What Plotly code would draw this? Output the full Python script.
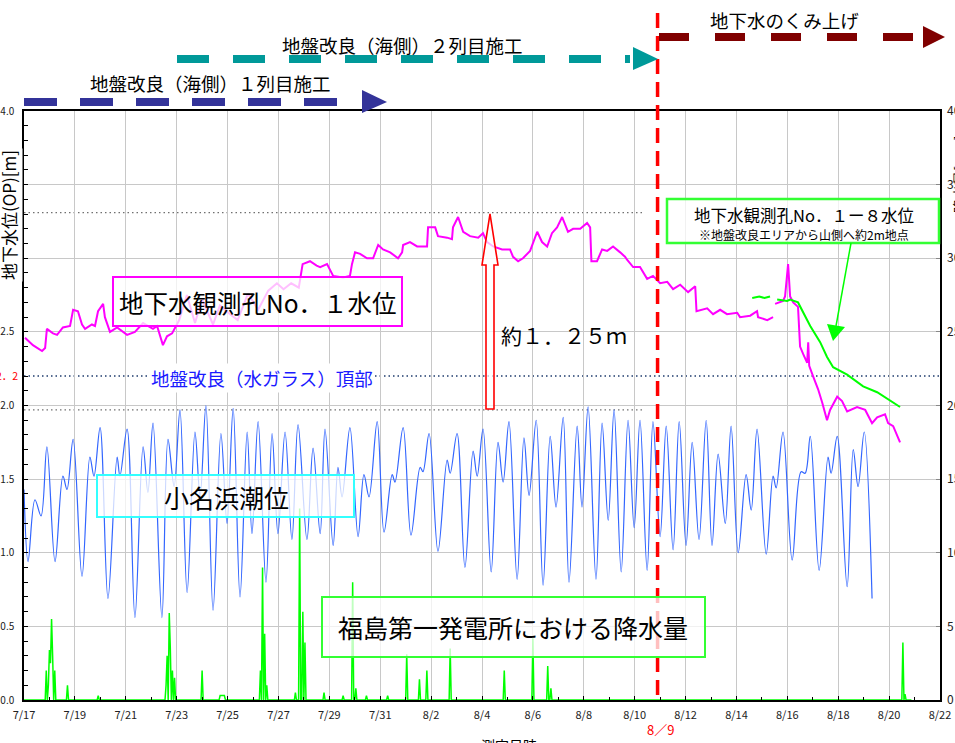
import pandas as pd
import plotly.graph_objects as go

T0 = pd.Timestamp("2013-07-17 00:00")
T_END = pd.Timestamp("2013-08-22 00:00")

# ---------------- data (days since 7/17 00:00) ----------------
# 地下水観測孔No.1水位 [OP m]  (None = data gap)
no1_day = [0.04, 0.35, 0.71, 0.83, 0.90, 1.14, 1.30, 1.53, 1.81, 1.93, 2.12, 2.28, 2.40,
           2.67, 2.79, 2.91, 3.11, 3.18, 3.38, 3.66, 4.05, 4.36, 4.68, 5.07, 5.23, 5.46,
           5.62, 5.82, 6.10, 6.40, 6.72, 7.00, 7.43, 7.70, 8.10, 8.40, 8.80, 9.20, 9.60,
           9.94, 10.20, 10.50, 10.80, 10.95, 11.24, 11.50, 11.64, 11.91, 12.15, 12.54,
           12.81, 12.89, 13.01, 13.21, 13.48, 13.72, 13.92, 14.11, 14.39, 14.70, 14.86,
           14.90, 15.17, 15.45, 15.84, 15.88, 16.16, 16.27, 16.63, 16.82, 16.86, 17.06,
           17.26, 17.53, 17.85, 18.04, 18.20, 18.44, 18.79, 19.10, 19.22, 19.42, 19.61,
           19.89, 20.17, 20.36, 20.56, 20.75, 20.95, 21.15, 21.38, 21.58, 21.86, 22.13,
           22.25, 22.30, 22.52, 22.72, 22.92, 23.15, 23.43, 23.62, 23.70, 23.94, 24.21,
           24.49, 24.72, 25.00, 25.28, 25.51, 25.79, 26.10, 26.38, 26.43, 26.85, 27.08,
           27.36, 27.63, 28.03, 28.14, 28.54, 28.81, 28.85, 29.21, 29.44,
           29.48,
           29.52, 29.83, 29.91, 30.03, 30.11, 30.23, 30.42, 30.50, 30.62, 30.78, 30.82,
           30.86, 31.01, 31.21, 31.37, 31.56, 31.68, 31.96, 32.15, 32.35, 32.74, 33.06,
           33.33, 33.53, 33.84, 33.96, 34.16, 34.43]
no1_val = [2.46, 2.41, 2.37, 2.39, 2.52, 2.49, 2.48, 2.53, 2.54, 2.65, 2.64, 2.55, 2.52,
           2.55, 2.54, 2.64, 2.69, 2.60, 2.50, 2.53, 2.48, 2.50, 2.56, 2.52, 2.54, 2.41,
           2.47, 2.49, 2.58, 2.75, 2.56, 2.72, 2.55, 2.68, 2.62, 2.58, 2.76, 2.65, 2.78,
           2.83, 2.79, 2.83, 2.80, 2.96, 2.98, 2.95, 2.94, 2.96, 2.88, 2.87,
           2.88, 2.96, 3.04, 3.03, 3.00, 3.00, 3.09, 3.06, 3.04, 3.00, 3.04,
           3.09, 3.11, 3.08, 3.08, 3.21, 3.21, 3.15, 3.14, 3.13, 3.21, 3.28,
           3.18, 3.15, 3.14, 3.17, 3.11, 3.08, 3.06, 3.06, 3.01, 2.98, 3.00,
           3.05, 3.18, 3.11, 3.08, 3.17, 3.21, 3.28, 3.18, 3.20, 3.20, 3.24,
           3.21, 2.98, 2.98, 3.06, 3.05, 3.08, 3.04, 3.01, 2.99, 2.94, 2.94,
           2.86, 2.88, 2.83, 2.84, 2.79, 2.82, 2.77, 2.81, 2.64, 2.66, 2.62,
           2.65, 2.62, 2.63, 2.60, 2.61, 2.64, 2.60, 2.58, 2.60,
           None,
           2.69, 2.71, 2.74, 2.96, 2.74, 2.70, 2.67, 2.40, 2.35, 2.29, 2.43,
           2.27, 2.20, 2.11, 2.02, 1.90, 1.97, 2.06, 2.03, 1.96, 1.99, 1.97,
           1.88, 1.92, 1.94, 1.88, 1.86, 1.75]

# 地下水観測孔No.1-8水位 [OP m]
no18_day = [28.62, 28.90, 29.10, 29.32, 29.36, 29.60, 29.99, 30.11, 30.42, 30.90, 31.29,
            31.56, 31.80, 32.35, 32.98, 33.53, 34.04, 34.43]
no18_val = [2.73, 2.74, 2.73, 2.74, None, 2.72, 2.71, 2.72, 2.70, 2.54, 2.43,
            2.33, 2.26, 2.21, 2.13, 2.09, 2.03, 1.99]

# 小名浜潮位 [OP m]  (high / low waters)
tide_day = [0.00, 0.16, 0.43, 0.67, 0.90, 1.22, 1.53, 1.69, 1.93, 2.28, 2.59, 2.75, 2.99,
            3.30, 3.66, 3.77, 4.05, 4.36, 4.68, 4.87, 5.07, 5.42, 5.66, 5.90, 6.13, 6.41,
            6.72, 6.92, 7.15, 7.43, 7.74, 7.98, 8.22, 8.49, 8.77, 8.96, 9.20, 9.51, 9.75,
            9.98, 10.26, 10.53, 10.77, 11.12, 11.36, 11.64, 11.83, 12.15, 12.34, 12.50,
            12.81, 13.13, 13.36, 13.56, 13.88, 14.15, 14.47, 14.58, 14.90, 15.21, 15.57,
            15.68, 15.92, 16.27, 16.63, 16.75, 17.02, 17.33, 17.65, 17.81, 18.04, 18.36,
            18.63, 18.83, 19.06, 19.38, 19.65, 19.85, 20.13, 20.40, 20.68, 20.91, 21.19,
            21.42, 21.74, 21.93, 22.17, 22.48, 22.72, 22.96, 23.19, 23.47, 23.74, 23.98,
            24.21, 24.49, 24.72, 25.00, 25.24, 25.51, 25.75, 26.02, 26.26, 26.53, 26.81,
            27.04, 27.28, 27.56, 27.79, 28.07, 28.38, 28.58, 28.81, 29.17, 29.44, 29.56,
            29.83, 30.19, 30.54, 30.70, 30.90, 31.25, 31.60, 31.72, 31.96, 32.35, 32.59,
            32.78, 33.02, 33.33]
tide_val = [1.43, 0.94, 1.36, 1.25, 1.72, 0.94, 1.52, 1.43, 1.77, 0.84, 1.65, 1.52, 1.85,
            0.69, 1.65, 1.52, 1.84, 0.56, 1.72, 1.41, 1.88, 0.56, 1.77, 1.45, 1.97, 0.73,
            1.82, 1.38, 2.00, 0.61, 1.81, 1.20, 1.98, 0.70, 1.82, 1.13, 1.89, 0.80, 1.81,
            1.13, 1.82, 1.09, 1.87, 1.09, 1.71, 1.13, 1.84, 1.05, 1.58, 1.38,
            1.85, 1.11, 1.53, 1.38, 1.89, 1.14, 1.53, 1.48, 1.85, 1.12, 1.58,
            1.55, 1.81, 1.01, 1.63, 1.54, 1.81, 0.90, 1.69, 1.52, 1.84, 0.87,
            1.75, 1.48, 1.89, 0.82, 1.78, 1.39, 1.90, 0.78, 1.79, 1.31, 1.92,
            0.80, 1.86, 1.31, 1.99, 0.82, 1.88, 1.22, 1.97, 0.87, 1.90, 1.17,
            1.90, 0.88, 1.89, 1.11, 1.86, 1.02, 1.89, 1.05, 1.75, 1.09, 1.90,
            1.05, 1.67, 1.20, 1.86, 1.00, 1.53, 1.29, 1.84, 0.99, 1.52, 1.44,
            1.82, 0.95, 1.55, 1.54, 1.79, 0.88, 1.65, 1.54, 1.79, 0.77, 1.70,
            1.45, 1.82, 0.69]

# 福島第一発電所における降水量 [mm/h]  (hours with rain)
rain_day = [0.86, 0.94, 0.98, 1.06, 1.10, 1.14, 1.22, 1.69, 2.91, 5.58, 5.62, 5.70, 5.74,
            5.82, 5.90, 7.00, 7.70, 7.74, 7.78, 7.82, 7.86, 9.28, 9.36, 9.45, 9.55, 10.65,
            10.85, 10.95, 11.05, 11.79, 12.54, 12.93, 13.05, 13.44, 14.31, 15.06, 15.53,
            15.84, 16.75, 18.87, 20.01, 20.60, 20.72, 34.55, 34.63]
rain_mm = [2.0, 1.0, 3.4, 2.5, 5.5, 3.0, 2.0, 1.0, 0.3, 1.0, 3.0, 5.9, 3.5,
           2.0, 1.5, 2.0, 0.3, 0.3, 0.3, 0.3, 0.3, 2.0, 9.0, 4.5, 1.0, 0.5,
           13.0, 6.0, 3.9, 0.5, 0.3, 8.0, 0.8, 0.3, 0.3, 3.1, 1.4,
           2.0, 3.5, 2.0, 4.2, 2.3, 0.8, 3.9, 0.4]
RAIN_END_DAY = 34.9

# reference levels [OP m]
LEVEL_HIGH = 3.31        # No.1 maximum
LEVEL_GLASS = 2.2        # 地盤改良(水ガラス)頂部
LEVEL_LOW = 1.97         # tide maximum
REF_LINE_END_DAY = 24.3
PUMP_START_DAY = 24.90   # 地下水のくみ上げ開始

# ---------------- helpers ----------------
def to_time(days):
    return [T0 + pd.Timedelta(days=d) for d in days]

n_hours = int(RAIN_END_DAY * 24) + 1
rain_t = [T0 + pd.Timedelta(hours=h) for h in range(n_hours)]
rain_v = [0.0] * n_hours
for d, mm in zip(rain_day, rain_mm):
    rain_v[int(round(d * 24))] = mm

L, R, T, B = 24, 15, 111, 43
W, H = 955, 743
PW, PH = W - L - R, H - T - B

def PX(x):
    return (x - L) / PW

def PY(y):
    return (H - B - y) / PH

FONT = "Noto Sans CJK JP"

fig = go.Figure()
fig.add_trace(go.Scatter(x=rain_t, y=rain_v, yaxis="y2", mode="lines",
                         line=dict(color="#00FF00", width=1.5), hoverinfo="skip"))
fig.add_trace(go.Scatter(x=to_time(tide_day), y=tide_val, mode="lines",
                         line=dict(color="#3366FF", width=1.2, shape="spline", smoothing=1.0)))
fig.add_trace(go.Scatter(x=to_time(no1_day), y=no1_val, mode="lines", connectgaps=False,
                         line=dict(color="#FF00FF", width=2)))
fig.add_trace(go.Scatter(x=to_time(no18_day), y=no18_val, mode="lines", connectgaps=False,
                         line=dict(color="#00FF00", width=2)))

shapes = []
ref_end = T0 + pd.Timedelta(days=REF_LINE_END_DAY)
shapes.append(dict(type="line", xref="x", yref="y", x0=T0, x1=ref_end, y0=LEVEL_HIGH, y1=LEVEL_HIGH,
                   line=dict(color="#707070", width=1.3, dash="1.5px,3px"), layer="below"))
shapes.append(dict(type="line", xref="x", yref="y", x0=T0, x1=ref_end, y0=LEVEL_LOW, y1=LEVEL_LOW,
                   line=dict(color="#707070", width=1.3, dash="1.5px,3px"), layer="below"))
shapes.append(dict(type="line", xref="paper", yref="y", x0=0, x1=1, y0=LEVEL_GLASS, y1=LEVEL_GLASS,
                   line=dict(color="#1F3C6E", width=1.6, dash="1.5px,3px"), layer="below"))

# red vertical dashed line (pumping start)
pump_t = T0 + pd.Timedelta(days=PUMP_START_DAY)
shapes.append(dict(type="line", xref="x", yref="paper", x0=pump_t, x1=pump_t, y0=PY(695), y1=PY(5),
                   line=dict(color="#FF0000", width=3.5, dash="15px,8px"), layer="above"))

def rect(x0, y0, x1, y1, color, width=2, fill="rgba(255,255,255,0.75)"):
    shapes.append(dict(type="rect", xref="paper", yref="paper", x0=PX(x0), x1=PX(x1),
                       y0=PY(y1), y1=PY(y0), line=dict(color=color, width=width),
                       fillcolor=fill, layer="above"))

def poly(pts, color, fill, width=0):
    path = "M " + " L ".join(f"{PX(x):.5f},{PY(y):.5f}" for x, y in pts) + " Z"
    shapes.append(dict(type="path", xref="paper", yref="paper", path=path,
                       line=dict(color=color, width=width), fillcolor=fill, layer="above"))

def hline(x0, x1, y, color, width, dash):
    shapes.append(dict(type="line", xref="paper", yref="paper", x0=PX(x0), x1=PX(x1),
                       y0=PY(y), y1=PY(y), line=dict(color=color, width=width, dash=dash),
                       layer="above"))

rect(113, 277, 402, 326, "#FF00FF")
rect(97, 475, 354, 517, "#33FFFF")
rect(322, 597, 705, 657, "#33FF33")
rect(667, 199, 939, 243, "#33FF33", width=2.5)

# red hollow arrow
poly([(486, 409), (486, 265), (482, 265), (490, 214), (498, 265), (494, 265), (494, 409)],
     "#FF0000", "rgba(255,255,255,0.7)", width=1.6)

# green arrow to No.1-8 line
shapes.append(dict(type="line", xref="paper", yref="paper", x0=PX(851), y0=PY(243),
                   x1=PX(836), y1=PY(326), line=dict(color="#00FF00", width=1.5), layer="above"))
poly([(827, 324), (845, 327), (833, 341)], "#00FF00", "#00FF00")

# top construction arrows
hline(24, 340, 102, "#333399", 8, "33px,23px")
poly([(362, 90), (387, 102), (362, 113)], "#333399", "#333399")
hline(177, 630, 59, "#009999", 8, "32px,24px")
poly([(633, 47), (658, 59), (633, 70)], "#009999", "#009999")
hline(659, 918, 37, "#800000", 8, "30px,26px")
poly([(923, 26), (945, 37), (923, 48)], "#800000", "#800000")

annotations = []

def text(x, y, s, size, color="black", bg=None, xanchor="center", angle=0):
    a = dict(xref="paper", yref="paper", x=PX(x), y=PY(y), text=s, showarrow=False,
             font=dict(family=FONT, size=size, color=color), xanchor=xanchor, yanchor="middle",
             textangle=angle)
    if bg:
        a["bgcolor"] = bg
    annotations.append(a)

text(258, 302, "地下水観測孔No．１水位", 24.5)
text(564, 335, "約１．２５ｍ", 21)
text(262, 378, "地盤改良（水ガラス）頂部", 18.5, color="#1A1AFF", bg="white")
text(226, 497, "小名浜潮位", 25)
text(513, 627, "福島第一発電所における降水量", 25)
text(804, 215, "地下水観測孔No．１ー８水位", 16.5)
text(804, 234, "※地盤改良エリアから山側へ約2m地点", 12)
text(210, 83, "地盤改良（海側）１列目施工", 18.5)
text(402, 45, "地盤改良（海側）２列目施工", 18.5)
text(784, 20, "地下水のくみ上げ", 18.5)
text(660, 729, "8／9", 13, color="#FF0000")
text(20, 375, "2．2", 10.5, color="#FF0000", xanchor="right")
text(8, 215, "地下水位(OP)[m]", 17, angle=-90, bg="white")
text(959, 175, "降水量[mm]", 14, angle=-90)
annotations.append(dict(xref="paper", yref="paper", x=PX(509), y=PY(733), text="測定日時",
                        showarrow=False, font=dict(family=FONT, size=14, color="black"),
                        xanchor="center", yanchor="top"))

fig.update_layout(
    width=W, height=H,
    margin=dict(l=L, r=R, t=T, b=B, autoexpand=False),
    paper_bgcolor="white", plot_bgcolor="white",
    showlegend=False,
    font=dict(family=FONT, size=11, color="#222222"),
    shapes=shapes, annotations=annotations,
    xaxis=dict(type="date", range=[T0, T_END], tick0=T0, dtick=2 * 86400000,
               tickformat="%-m/%-d", ticks="inside", ticklen=4, tickcolor="#000",
               showgrid=True, gridcolor="#C8C8C8", gridwidth=1,
               showline=True, linecolor="#000", linewidth=1.5, mirror=True,
               minor=dict(dtick=86400000, ticks="inside", ticklen=3, tickcolor="#000", showgrid=False),
               tickfont=dict(size=11, color="#222"), ticklabelstandoff=4, zeroline=False),
    yaxis=dict(range=[0, 4], tickvals=[0, 0.5, 1, 1.5, 2, 2.5, 3, 3.5, 4],
               ticktext=["0.0", "0.5", "1.0", "1.5", "2.0", "2.5", "", "", "4.0"],
               ticks="inside", ticklen=4, tickcolor="#000",
               showgrid=True, gridcolor="#C8C8C8", gridwidth=1,
               showline=True, linecolor="#000", linewidth=1.5, mirror=True,
               minor=dict(dtick=0.1, ticks="inside", ticklen=4, tickcolor="#000", showgrid=False),
               tickfont=dict(size=10, color="#222"), ticklabelstandoff=6, zeroline=False),
    yaxis2=dict(range=[0, 40], overlaying="y", side="right", dtick=5, ticks="inside",
                ticklen=4, tickcolor="#888", showgrid=False, showline=False, zeroline=False,
                tickfont=dict(size=12, color="#222"), ticklabelstandoff=6),
)

fig.write_html("out.html", config={"displayModeBar": False},
               post_script="document.body.style.margin='0px';document.body.style.overflow='hidden';")
